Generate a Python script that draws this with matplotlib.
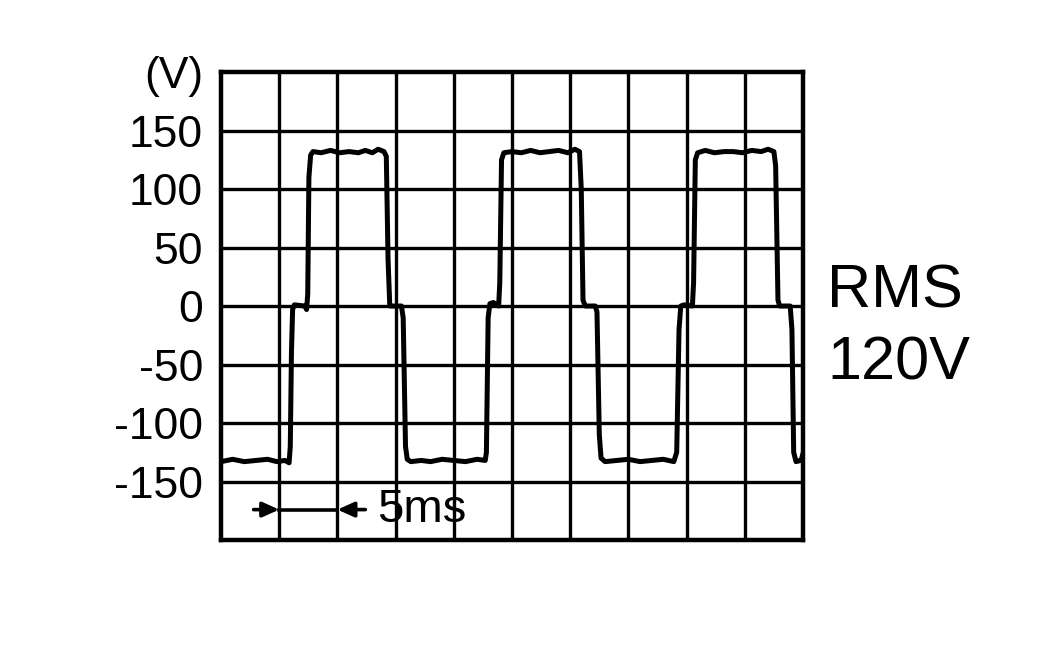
import matplotlib
matplotlib.use("Agg")
import matplotlib.pyplot as plt

plt.rcParams['font.family'] = ['Liberation Sans', 'DejaVu Sans']

# waveform corners (time in ms, voltage in V)
t_ms = [0.0, 1.0, 2.0, 3.0, 4.0, 4.8, 5.5, 5.85, 5.95, 6.05, 6.15, 6.3, 7.2, 7.35,
        7.45, 7.55, 7.7, 7.9, 8.6, 9.4, 10.2, 11.0, 11.8, 12.4, 13.0, 13.5, 14.0,
        14.2, 14.35, 14.5, 15.5, 15.65, 15.85, 16.0, 16.3, 17.2, 18.0, 19.0, 20.0,
        21.0, 22.0, 22.7, 22.8, 22.95, 23.1, 23.4, 23.85, 23.95, 24.1, 24.3, 25.0,
        25.8, 26.6, 27.4, 28.2, 29.0, 29.8, 30.4, 30.8, 30.95, 31.1, 31.3, 32.15,
        32.3, 32.5, 32.65, 33.0, 34.0, 35.0, 36.0, 37.0, 38.0, 38.9, 39.15, 39.35,
        39.5, 39.8, 40.5, 40.6, 40.75, 40.95, 41.6, 42.4, 43.2, 44.0, 44.8, 45.6,
        46.4, 47.0, 47.5, 47.65, 47.85, 48.0, 48.9, 49.05, 49.2, 49.4, 49.8, 49.9,
        50.0]
volts = [-133, -131, -133, -132, -131, -133, -132, -134, -120, -40, -3, 1, 0, -3,
         10, 110, 129, 132, 131, 133, 131, 132, 131, 133, 131, 134, 132,
         128, 40, 0, 0, -10, -120, -131, -133, -132, -133, -131, -132,
         -133, -131, -132, -125, -10, 2, 3, 0, 20, 125, 131, 132,
         131, 133, 131, 132, 133, 131, 134, 132, 100, 5, 0, 0,
         -5, -110, -130, -133, -132, -131, -133, -132, -131, -133, -125, -20,
         0, 1, 0, 20, 125, 131, 133, 131, 132, 132, 131, 133,
         132, 134, 132, 120, 5, 0, 0, -20, -125, -133, -132, -130,
         -126]

ytick_pos = [-150, -100, -50, 0, 50, 100, 150, 200]
ytick_labels = ['-150', '-100', '-50', '0', '50', '100', '150', '(V)']
grid_y = [-150, -100, -50, 0, 50, 100, 150]
grid_x = [5, 10, 15, 20, 25, 30, 35, 40, 45]

fig = plt.figure(figsize=(10.52, 6.5), dpi=100)
ax = fig.add_axes([0.2101, 0.1692, 0.5532, 0.72])

for gx in grid_x:
    ax.axvline(gx, color='black', lw=2.4, zorder=1)
for gy in grid_y:
    ax.axhline(gy, color='black', lw=2.4, zorder=1)

ax.plot(t_ms, volts, color='black', lw=3.6, solid_joinstyle='round',
        solid_capstyle='round', zorder=3)

ax.set_xlim(0, 50)
ax.set_ylim(-200, 200)
ax.set_xticks([])
ax.set_yticks(ytick_pos)
ax.set_yticklabels(ytick_labels, fontsize=32)
ax.tick_params(axis='y', length=0, pad=13)
for sp in ax.spines.values():
    sp.set_linewidth(3.2)

# 5ms scale marker
ax.plot([5, 10], [-174, -174], color='black', lw=2.6, zorder=4)
ax.annotate('', xy=(5, -174), xytext=(2.8, -174),
            arrowprops=dict(arrowstyle='-|>,head_length=1.0,head_width=0.45',
                            color='black', lw=2.6, shrinkA=0, shrinkB=0))
ax.annotate('', xy=(10, -174), xytext=(12.4, -174),
            arrowprops=dict(arrowstyle='-|>,head_length=1.0,head_width=0.45',
                            color='black', lw=2.6, shrinkA=0, shrinkB=0))
ax.text(13.4, -174, '5ms', fontsize=34, va='center', ha='left')

fig.text(827 / 1052, 1 - 307 / 650, 'RMS', fontsize=44, va='baseline', ha='left')
fig.text(827 / 1052, 1 - 380 / 650, '120V', fontsize=44, va='baseline', ha='left')

fig.savefig('out.png', dpi=100)
